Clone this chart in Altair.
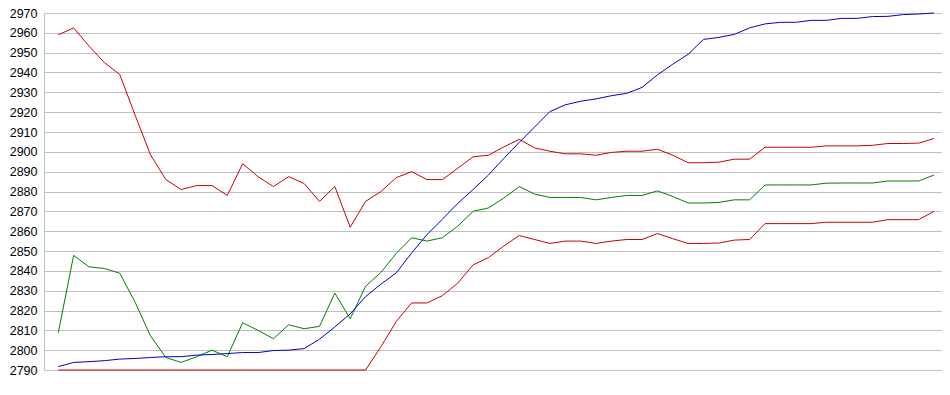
import altair as alt
import pandas as pd

# index of each sample (categories along the x axis, no labels shown)
points = list(range(58))

red_top = [2959, 2962.5, 2953.3, 2945, 2939, 2918.5, 2898.5, 2886, 2881, 2883, 2883, 2878, 2894,
           2887.5, 2882.5, 2887.5, 2884, 2875, 2882.5, 2862,
           2875, 2880, 2887, 2890, 2886, 2886, 2891.7, 2897.5, 2898.3, 2902.5, 2906.3,
           2902, 2900.3, 2899, 2899, 2898.3, 2899.7, 2900.3, 2900.3, 2901.3, 2898.3, 2894.5, 2894.5,
           2894.8, 2896.3, 2896.3, 2902.3, 2902.3, 2902.3, 2902.3, 2903, 2903, 2903, 2903.3, 2904.2,
           2904.2, 2904.4, 2906.7]

blue = [2791.7, 2793.8, 2794.2, 2794.7, 2795.5, 2795.8, 2796.3, 2796.7, 2796.7, 2797.5, 2797.8, 2798.3, 2798.8,
        2798.8, 2799.8, 2800, 2800.8, 2805.5, 2811.7, 2818.3, 2827, 2833.3, 2839, 2849, 2858.3, 2866, 2874, 2881,
        2888.3, 2896.7, 2904.7, 2912.5, 2920.3, 2923.7, 2925.5, 2926.7, 2928.3, 2929.5, 2932.5, 2938.8, 2944.2,
        2949.2, 2956.7,
        2957.7, 2959.2, 2962.5, 2964.5, 2965.3, 2965.3, 2966.3, 2966.3, 2967.3, 2967.3, 2968.2, 2968.3, 2969.2,
        2969.5, 2970]

green = [2808.8, 2847.8, 2842, 2841.2, 2838.8, 2824.2, 2807.2, 2796.3, 2793.8, 2796.7, 2800, 2796.7, 2813.8,
         2810, 2805.8, 2812.8, 2810.8, 2812, 2828.8, 2815.8, 2832.2, 2839.2, 2848.8, 2856.7, 2855, 2856.7,
         2862.5, 2870,
         2871.7, 2876.7, 2882.5, 2878.7, 2877, 2877, 2877, 2875.8, 2877, 2878, 2878, 2880.3, 2877.5, 2874.2, 2874.2,
         2874.5, 2875.8, 2875.8, 2883.3, 2883.3, 2883.3, 2883.3, 2884.2, 2884.3, 2884.3, 2884.3, 2885.3, 2885.3,
         2885.3, 2888.3]

red_bottom = [2790, 2790, 2790, 2790, 2790, 2790, 2790, 2790, 2790, 2790, 2790, 2790, 2790,
              2790, 2790, 2790, 2790, 2790, 2790, 2790, 2790,
              2801.7, 2814.5, 2823.8, 2823.8, 2827.5, 2833.8, 2843, 2846.7, 2852.5, 2857.8,
              2855.8, 2853.8, 2855, 2855, 2853.8, 2855, 2855.8, 2855.8, 2858.8, 2856.2, 2853.8, 2853.8,
              2854, 2855.5, 2855.8, 2863.8, 2863.8, 2863.8, 2863.8, 2864.5, 2864.5, 2864.5, 2864.5, 2865.8,
              2865.8, 2865.8, 2870]

y_ticks = list(range(2790, 2971, 10))

series = [("red_bottom", red_bottom, "#cc0000"),
          ("green", green, "#008000"),
          ("red_top", red_top, "#cc0000"),
          ("blue", blue, "#0000cc")]

x_scale = alt.Scale(domain=[-0.93, 57.52], nice=False, zero=False)
y_scale = alt.Scale(domain=[2790, 2970], nice=False, zero=False)

y_axis = alt.Axis(values=y_ticks, tickCount=19, grid=True, gridColor="#c0c0c0", gridWidth=1,
                  domainColor="#c0c0c0", domainWidth=1, ticks=False,
                  labelPadding=7, labelFont="Liberation Sans", labelFontSize=12.5,
                  labelColor="#000000", format="d",
                  labelOverlap=False, labelBound=False, labelFlush=False)

layers = []
for name, vals, col in series:
    df = pd.DataFrame({"i": points, "v": vals})
    layers.append(
        alt.Chart(df).mark_line(color=col, strokeWidth=1).encode(
            x=alt.X("i:Q", scale=x_scale, axis=None),
            y=alt.Y("v:Q", scale=y_scale, title=None, axis=y_axis),
        )
    )

chart = alt.layer(*layers).properties(
    width=898,
    height=357,
    autosize=alt.AutoSizeParams(type="none"),
    padding={"left": 36, "top": 5, "right": 0, "bottom": 6},
    background="white",
).configure_view(strokeWidth=0)

chart.save("out.html", embed_options={"renderer": "svg", "actions": False})
